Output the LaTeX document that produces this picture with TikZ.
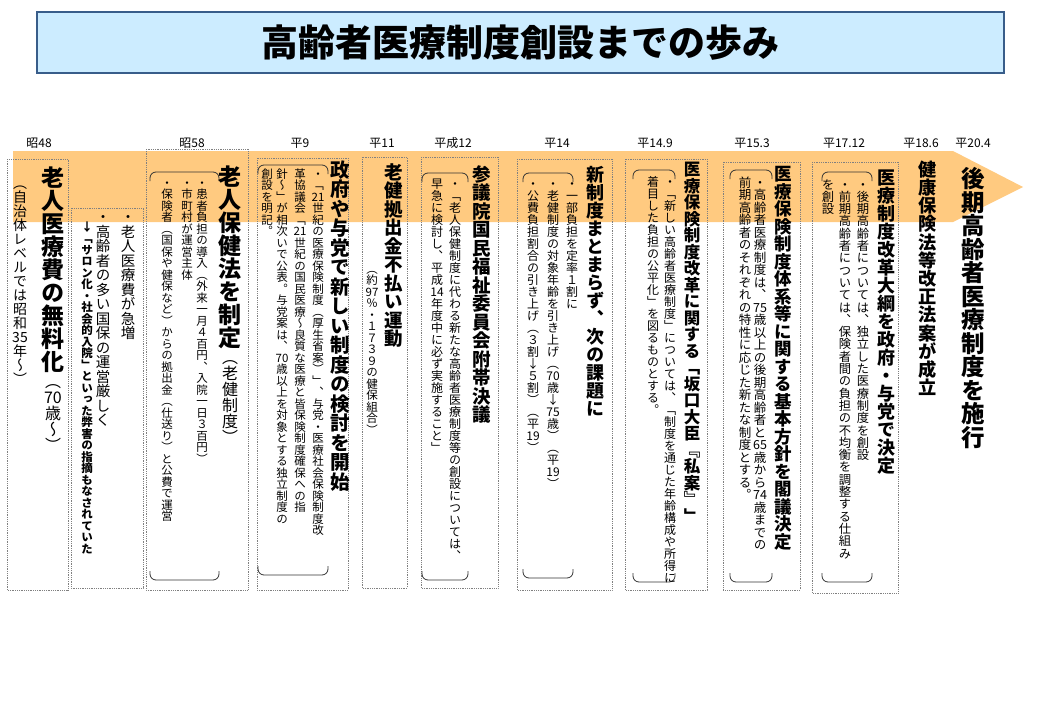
\documentclass[tikz,border=0pt]{standalone}
\usepackage{fontspec}
\usepackage{graphicx}
\usetikzlibrary{positioning}
\setmainfont{Noto Sans CJK JP}
\newfontfamily\tatefont{Noto Sans CJK JP}[RawFeature=+vert]
\makeatletter
\newcommand\tatechar[1]{\hbox to 1em{\hss\vrule height .88em depth .12em width 0pt\relax#1\hss}}
\newcommand\tate[1]{\vbox{\offinterlineskip\@tfor\tate@c:=#1\do{\tatechar{\tate@c}}}}
\makeatother
\definecolor{bandorange}{RGB}{255,202,128}
\definecolor{titlefill}{RGB}{204,236,255}
\definecolor{titleline}{RGB}{56,93,138}

\begin{document}
\begin{tikzpicture}[x=1pt,y=-1pt,
    every node/.style={inner sep=0pt},
    period/.style={font=\fontsize{12}{12}\selectfont},
    stagebox/.style={draw=gray,densely dotted,line width=0.8pt},
    kakko/.style={draw=black!80,line width=0.8pt,rounded corners=6pt},
    headline/.style={anchor=north,font=\tatefont\bfseries\fontsize{#1}{#1}\selectfont},
    noteline/.style={anchor=north,font=\tatefont\fontsize{#1}{#1}\selectfont}]
  \useasboundingbox (0,0) rectangle (1039,720);
  % title
  \node[draw=titleline,line width=2pt,fill=titlefill,minimum width=967pt,minimum height=61pt,
        font=\bfseries\fontsize{37}{37}\selectfont] (title) at (520.5,42.5) {高齢者医療制度創設までの歩み};
  % time band
  \fill[bandorange] (13,151) -- (953,151) -- (1023,187) -- (953,222) -- (13,222) -- cycle;
  % years
  \node[period] (s48)   at (39,143)  {昭48};
  \node[period] (s58)   at (192,143) {昭58};
  \node[period] (h9)    at (300,143) {平9};
  \node[period] (h11)   at (382,143) {平11};
  \node[period] (h12)   at (453,143) {平成12};
  \node[period] (h14)   at (557,143) {平14};
  \node[period] (h149)  at (655,143) {平14.9};
  \node[period] (h153)  at (752,143) {平15.3};
  \node[period] (h1712) at (844,143) {平17.12};
  \node[period] (h186)  at (921,143) {平18.6};
  \node[period] (h204)  at (973,143) {平20.4};
  % dotted frames
  \foreach \xa/\ya/\xb/\yb in {7/159/68/590, 71/208/143/588, 146/149/248/590, 257/158/348/590,
      362/157/407/588, 421/157/498/588, 517/159/612/590, 625/159/707/590, 723/162/800/590, 812/162/898/593}
    \draw[stagebox] (\xa,\ya) rectangle (\xb,\yb);
  % brackets
  \foreach \xa/\xb/\ya/\yb in {150/219/172/580, 258/328/165/575, 422/468/173/580, 523/573/173/578,
      633/675/170/582, 730/772/170/582, 822/872/172/582}
  {
    \draw[kakko] (\xa,\ya+9) -- (\xa,\ya) -- (\xb,\ya) -- (\xb,\ya+9);
    \draw[kakko] (\xa,\yb-9) -- (\xa,\yb) -- (\xb,\yb) -- (\xb,\yb-9);
  }
  % S48
  \node[headline=23] (t48) at (53,166) {\tate{老人医療費の無料化}};
  \node[noteline=16,below=0pt of t48] (t48s) {\tate{（{70}歳～）}};
  \node[noteline=14] (t48a) at (20,176) {\tate{（自治体レベルでは昭和{35}年～）}};
  \node[noteline=14.5] (n48a) at (128,210) {\tate{・老人医療費が急増}};
  \node[noteline=14.5] (n48b) at (103,210) {\tate{・高齢者の多い国保の運営厳しく}};
  \node[headline=11.5] (n48c) at (87,221) {\tate{↓「サロン化・社会的入院」といった弊害の指摘もなされていた}};
  % S58
  \node[headline=23] (t58) at (230,165) {\tate{老人保健法を制定}};
  \node[noteline=16,below=0pt of t58] (t58s) {\tate{（老健制度）}};
  \node[noteline=11.5] (n58a) at (202,177) {\tate{・患者負担の導入（外来一月４百円、入院一日３百円）}};
  \node[noteline=11.5] (n58b) at (187,177) {\tate{・市町村が運営主体}};
  \node[noteline=11.5] (n58c) at (167,177) {\tate{・保険者（国保や健保など）からの拠出金（仕送り）と公費で運営}};
  % H9
  \node[headline=19.5] (th9) at (340,160) {\tate{政府や与党で新しい制度の検討を開始}};
  \node[noteline=11.5] (nh9a) at (318,168) {\tate{・「{21}世紀の医療保険制度（厚生省案）」、与党・医療社会保険制度改}};
  \node[noteline=11.5] (nh9b) at (300,168) {\tate{革協議会「{21}世紀の国民医療～良質な医療と皆保険制度確保への指}};
  \node[noteline=11.5] (nh9c) at (282,168) {\tate{針～」が相次いで公表。与党案は、{70}歳以上を対象とする独立制度の}};
  \node[noteline=11.5] (nh9d) at (267,168) {\tate{創設を明記。}};
  % H11
  \node[headline=18.5] (th11) at (394,163) {\tate{老健拠出金不払い運動}};
  \node[noteline=11.5] (nh11) at (372,263) {\tate{（約{97}％・１７３９の健保組合）}};
  % H12
  \node[headline=18.5] (th12) at (482,165) {\tate{参議院国民福祉委員会附帯決議}};
  \node[noteline=12] (nh12a) at (455,178) {\tate{・「老人保健制度に代わる新たな高齢者医療制度等の創設については、}};
  \node[noteline=12] (nh12b) at (437,178) {\tate{早急に検討し、平成{14}年度中に必ず実施すること」}};
  % H14
  \node[headline=18] (th14) at (595,165) {\tate{新制度まとまらず、次の課題に}};
  \node[noteline=12] (nh14a) at (572,178) {\tate{・一部負担を定率１割に}};
  \node[noteline=12] (nh14b) at (553,178) {\tate{・老健制度の対象年齢を引き上げ（{70}歳↓{75}歳）（平{19}）}};
  \node[noteline=12] (nh14c) at (533,178) {\tate{・公費負担割合の引き上げ（３割↓５割）（平{19}）}};
  % H14.9
  \node[headline=16.5] (th149) at (692,161) {\tate{医療保険制度改革に関する「坂口大臣『私案』」}};
  \node[noteline=12] (nh149a) at (670,176) {\tate{・「新しい高齢者医療制度」については、「制度を通じた年齢構成や所得に}};
  \node[noteline=12] (nh149b) at (653,176) {\tate{着目した負担の公平化」を図るものとする。}};
  % H15.3
  \node[headline=17.5] (th153) at (783,165) {\tate{医療保険制度体系等に関する基本方針を閣議決定}};
  \node[noteline=12.5] (nh153a) at (760,176) {\tate{・高齢者医療制度は、{75}歳以上の後期高齢者と{65}歳から{74}歳までの}};
  \node[noteline=12.5] (nh153b) at (745,176) {\tate{前期高齢者のそれぞれの特性に応じた新たな制度とする。}};
  % H17.12
  \node[headline=18] (th1712) at (886,168) {\tate{医療制度改革大綱を政府・与党で決定}};
  \node[noteline=12.3] (nh1712a) at (863,178) {\tate{・後期高齢者については、独立した医療制度を創設}};
  \node[noteline=12.3] (nh1712b) at (845,178) {\tate{・前期高齢者については、保険者間の負担の不均衡を調整する仕組み}};
  \node[noteline=12.3] (nh1712c) at (828,178) {\tate{を創設}};
  % H18.6, H20.4
  \node[headline=18.2] (th186) at (928,160) {\tate{健康保険法等改正法案が成立}};
  \node[headline=23.5] (th204) at (973,167) {\tate{後期高齢者医療制度を施行}};
\end{tikzpicture}
\end{document}
